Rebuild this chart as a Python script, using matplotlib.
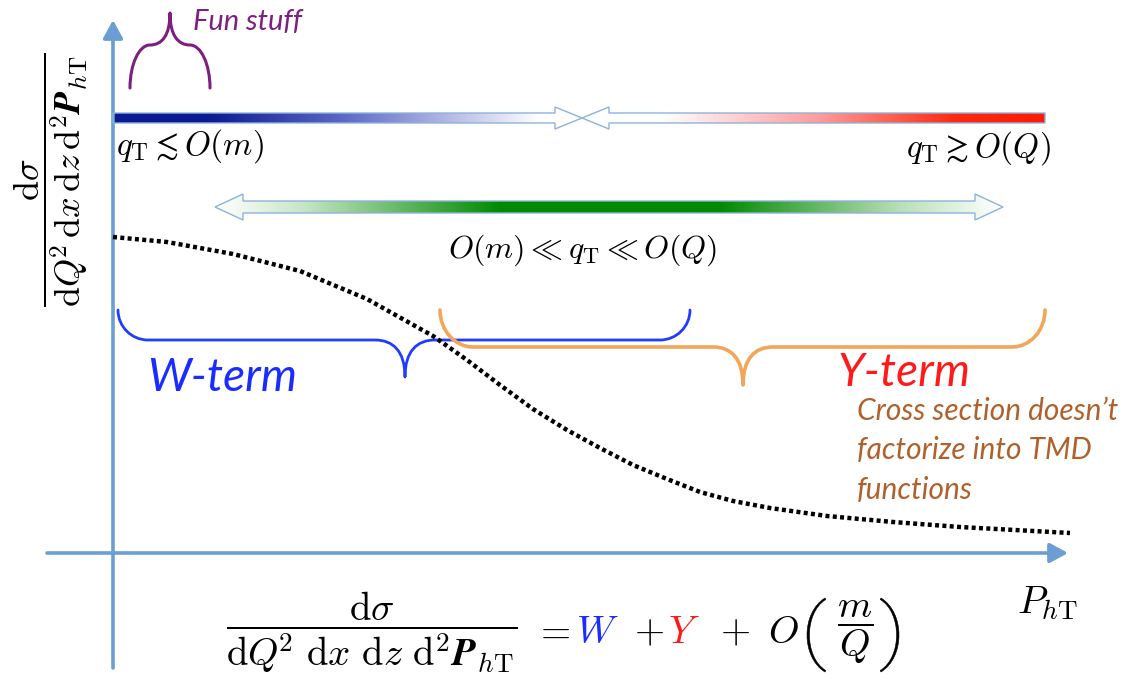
import numpy as np
import matplotlib
matplotlib.use('Agg')
from matplotlib import pyplot as plt
from matplotlib.path import Path
from matplotlib.patches import PathPatch, Polygon
from matplotlib.colors import LinearSegmentedColormap

"""
TMD 因子化示意图：W-term / Y-term
"""

# 截面曲线 (P_hT, dσ)，以坐标轴交点为原点
curve_pt = [0, 54, 120, 187, 254, 320, 354, 387, 420, 454, 487, 520,
            554, 587, 620, 657, 714, 780, 847, 957]
curve_sigma = [316, 311, 299, 282, 254, 217, 193, 168, 144, 123, 105, 88,
               74, 61, 52, 45, 37, 31, 26, 20]

# 文字
fun_label = 'Fun stuff'
w_label = 'W-term'
y_label = 'Y-term'
note_label = 'Cross section doesn\u2019t\nfactorize into TMD\nfunctions'
low_label = r'$q_{\mathrm{T}} \lesssim O(m)$'
high_label = r'$q_{\mathrm{T}} \gtrsim O(Q)$'
mid_label = r'$O(m) \ll q_{\mathrm{T}} \ll O(Q)$'
xsec = r'\dfrac{\mathrm{d}\sigma}{\mathrm{d}Q^{\!2}%s\mathrm{d}x%s\mathrm{d}z%s\mathrm{d}^2\mathbfit{P}_{h\mathrm{T}}}'

X0, Y0 = 113, 553  # 坐标原点在图中的像素位置

AXIS_C = '#6b9ed2'
EDGE_C = '#8db2dc'


def px(x, y):
    """像素位置 -> 坐标"""
    return x - X0, Y0 - y


def brace(ax, xl, xr, xm, ye, yb, yt, rx, c, color, lw):
    """画花括号（像素位置）"""
    d = yb - ye
    pts = [(xl, ye),
           (xl, ye + 0.552 * d), (xl + 0.448 * rx, yb), (xl + rx, yb),
           (xm - c, yb),
           (xm - 0.4 * c, yb), (xm, yb + 0.3 * (yt - yb)), (xm, yt),
           (xm, yb + 0.3 * (yt - yb)), (xm + 0.4 * c, yb), (xm + c, yb),
           (xr - rx, yb),
           (xr - 0.448 * rx, yb), (xr, ye + 0.552 * d), (xr, ye)]
    codes = ([Path.MOVETO] + [Path.CURVE4] * 3 + [Path.LINETO] + [Path.CURVE4] * 6
             + [Path.LINETO] + [Path.CURVE4] * 3)
    path = Path([px(*p) for p in pts], codes)
    ax.add_patch(PathPatch(path, fill=False, edgecolor=color, lw=lw,
                           capstyle='round', joinstyle='round'))


def paren(ax, xe, yt, yb, b, t):
    """大括号 ( 或 )：b<0 向左凸，b>0 向右凸"""
    h = yb - yt
    s = np.sign(b)
    pts = [(xe, yt),
           (xe + b, yt + 0.2 * h), (xe + b, yb - 0.2 * h), (xe, yb),
           (xe - s * 0.8, yb - 1.5),
           (xe + b - s * t, yb - 0.2 * h), (xe + b - s * t, yt + 0.2 * h), (xe - s * 0.8, yt + 1.5),
           (xe, yt)]
    codes = ([Path.MOVETO] + [Path.CURVE4] * 3 + [Path.LINETO] + [Path.CURVE4] * 3
             + [Path.CLOSEPOLY])
    ax.add_patch(PathPatch(Path([px(*p) for p in pts], codes), facecolor='black',
                           edgecolor='black', lw=0.4))


def block_arrow(ax, verts, stops, colors, yc, hh):
    """带渐变填充的块状箭头"""
    poly = Polygon([px(*v) for v in verts], closed=True, facecolor='none',
                   edgecolor=EDGE_C, lw=1.0, zorder=3)
    ax.add_patch(poly)
    xa, xb = min(v[0] for v in verts), max(v[0] for v in verts)
    pairs = sorted(((s - xa) / (xb - xa), c) for s, c in zip(stops, colors))
    if pairs[0][0] > 0:
        pairs.insert(0, (0.0, pairs[0][1]))
    if pairs[-1][0] < 1:
        pairs.append((1.0, pairs[-1][1]))
    cmap = LinearSegmentedColormap.from_list('g', pairs)
    grad = np.linspace(0, 1, 600).reshape(1, -1)
    l, b = px(xa, yc + hh)
    r, t = px(xb, yc - hh)
    im = ax.imshow(grad, cmap=cmap, extent=[l, r, b, t], aspect='auto',
                   interpolation='bilinear', zorder=2)
    im.set_clip_path(poly)


def single_arrow(x0, x1, yc, h, H, L):
    s = np.sign(x1 - x0)
    return [(x0, yc - h), (x1 - s * L, yc - h), (x1 - s * L, yc - H), (x1, yc),
            (x1 - s * L, yc + H), (x1 - s * L, yc + h), (x0, yc + h)]


def double_arrow(xa, xb, yc, h, H, L):
    return [(xa, yc), (xa + L, yc - H), (xa + L, yc - h), (xb - L, yc - h),
            (xb - L, yc - H), (xb, yc), (xb - L, yc + H), (xb - L, yc + h),
            (xa + L, yc + h), (xa + L, yc + H)]


plt.rcParams['mathtext.fontset'] = 'cm'
plt.rcParams['font.family'] = ['Lato', 'DejaVu Sans']

fig = plt.figure(figsize=(11.26, 6.98), dpi=100)
ax = fig.add_axes([0, 0, 1, 1])
ax.set_xlim(-X0, 1126 - X0)
ax.set_ylim(Y0 - 698, Y0)
ax.axis('off')

# 坐标轴
arrow_kw = dict(arrowstyle='-|>,head_length=0.55,head_width=0.3', color=AXIS_C,
                lw=2.6, shrinkA=0, shrinkB=0, mutation_scale=20)
ax.annotate('', xy=px(113, 20), xytext=px(113, 668), arrowprops=arrow_kw)
ax.annotate('', xy=px(1068, 553), xytext=px(47, 553), arrowprops=arrow_kw)

# 顶部两个箭头
block_arrow(ax, single_arrow(113, 582, 118, 5, 11, 27),
            [113, 210, 340, 540], ['#0b1c92', '#0b1c92', '#5a66c4', '#ffffff'], 118, 11)
block_arrow(ax, single_arrow(1045, 582, 118, 5, 11, 27),
            [1045, 955, 820, 660], ['#ff1a00', '#ff2a10', '#ff9a9a', '#ffffff'], 118, 11)

# 中间绿色双向箭头
block_arrow(ax, double_arrow(215, 1003, 207, 6, 13, 28),
            [215, 300, 500, 720, 900, 1003],
            ['#ffffff', '#c8e6c8', '#008a00', '#008a00', '#b8deb8', '#ffffff'], 207, 13)

# 花括号
brace(ax, 130, 210, 170, 88, 45, 13, 20, 20, '#7d1f80', 2.2)
brace(ax, 118, 690, 405, 310, 340, 377, 30, 30, '#1f3cff', 2.0)
brace(ax, 440, 1045, 743, 310, 347, 385, 33, 30, '#f2a65a', 2.6)

# 截面曲线
ax.plot(curve_pt, curve_sigma, color='black', lw=3.2,
        linestyle=(0, (0.9, 0.75)), zorder=4)

# 文字
ax.text(*px(193, 22), fun_label, color='#7d1f80', fontsize=21,
        style='italic', ha='left', va='center')
ax.text(*px(116, 146), low_label, fontsize=24, ha='left', va='center')
ax.text(*px(1051, 148), high_label, fontsize=24, ha='right', va='center')
ax.text(*px(583, 250), mid_label, fontsize=23, ha='center', va='center')
ax.text(*px(147, 378), w_label, color='#1a2cff', fontsize=33,
        style='italic', ha='left', va='center')
ax.text(*px(838, 373), y_label, color='#ff1a1a', fontsize=33,
        style='italic', ha='left', va='center')
ax.text(*px(857, 397), note_label, color='#b0602a', fontsize=21.5,
        style='italic', ha='left', va='top', linespacing=1.5)

# 纵轴、横轴标签
ax.text(*px(51, 180), '$' + xsec % (r'\,', r'\,', r'\,') + '$', fontsize=26,
        rotation=90, ha='center', va='center')
ax.text(*px(1048, 603), r'$P_{h\mathrm{T}}$', fontsize=28, ha='center', va='center')

# 底部公式
yc = 632
ax.text(*px(372, yc), '$' + xsec % (r'\ ', r'\ ', r'\ ') + '$', fontsize=28,
        ha='center', va='center')
ax.text(*px(534, yc), '$=$', fontsize=28, ha='left', va='center')
ax.text(*px(576, yc), '$W$', fontsize=28, color='#1a2cff', ha='left', va='center')
ax.text(*px(634, yc), '$+$', fontsize=28, ha='left', va='center')
ax.text(*px(668, yc), '$Y$', fontsize=28, color='#ff1a1a', ha='left', va='center')
ax.text(*px(720, yc), '$+$', fontsize=28, ha='left', va='center')
ax.text(*px(768, yc), '$O$', fontsize=28, ha='left', va='center')
paren(ax, 825, 598, 672, -24, 3)
ax.text(*px(855, yc), r'$\dfrac{m}{Q}$', fontsize=28, ha='center', va='center')
paren(ax, 881, 598, 672, 24, 3)

plt.savefig('out.png', dpi=100)
